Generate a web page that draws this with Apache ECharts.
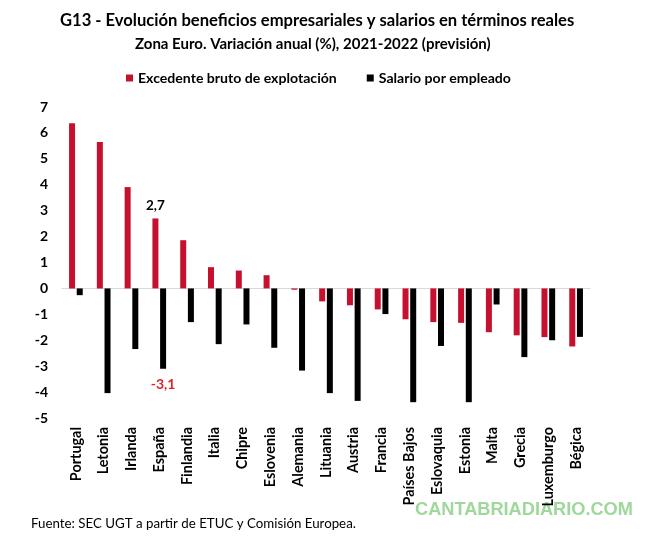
<!DOCTYPE html>
<html>
<head>
<meta charset="utf-8">
<style>
  html, body { margin: 0; padding: 0; background: #fff; }
  #chart { width: 655px; height: 541px; }
</style>
<script src="https://cdn.jsdelivr.net/npm/echarts@6/dist/echarts.min.js"></script>
</head>
<body>
<div id="chart"></div>
<script>
const titleText = "G13 - Evolución beneficios empresariales y salarios en términos reales";
const subtitleText = "Zona Euro. Variación anual (%), 2021-2022 (previsión)";
const sourceText = "Fuente: SEC UGT a partir de ETUC y Comisión Europea.";
const watermarkText = "CANTABRIADIARIO.COM";

const countries = ["Portugal", "Letonia", "Irlanda", "España", "Finlandia", "Italia", "Chipre", "Eslovenia", "Alemania", "Lituania", "Austria", "Francia", "Países Bajos", "Eslovaquia", "Estonia", "Malta", "Grecia", "Luxemburgo", "Bégica"];
const excedente = [6.37, 5.65, 3.91, 2.7, 1.86, 0.82, 0.69, 0.51, -0.05, -0.5, -0.65, -0.81, -1.19, -1.3, -1.33, -1.69, -1.81, -1.88, -2.24];
const salario = [-0.26, -4.04, -2.34, -3.1, -1.3, -2.15, -1.39, -2.29, -3.17, -4.04, -4.34, -0.99, -4.39, -2.22, -4.39, -0.62, -2.65, -2.0, -1.87];
const labelledCountry = "España";

const font = "Lato";
const chart = echarts.init(document.getElementById("chart"));

// solo España lleva etiqueta de valor
const withLabel = (values, label) =>
  values.map((value, i) =>
    countries[i] === labelledCountry ? { value, label } : value
  );

const labelFormatter = (params) => String(params.value).replace(".", ",");

chart.setOption({
  animation: false,
  textStyle: { fontFamily: font },
  title: [
    {
      text: titleText,
      left: 60,
      top: 12,
      padding: 0,
      textStyle: { fontFamily: font, fontSize: 16.6, fontWeight: "bold", color: "#000" },
    },
    {
      text: subtitleText,
      left: 135,
      top: 37,
      padding: 0,
      textStyle: { fontFamily: font, fontSize: 15, fontWeight: "bold", color: "#000" },
    },
  ],
  legend: {
    top: 66,
    left: 121,
    itemWidth: 7,
    itemHeight: 7,
    itemGap: 30,
    icon: "rect",
    textStyle: { fontFamily: font, fontSize: 14.1, fontWeight: "bold", color: "#000" },
  },
  grid: { left: 62, right: 65, top: 107, bottom: 123, outerBoundsMode: "none" },
  xAxis: [
    {
      // etiquetas abajo del todo, sin línea
      type: "category",
      data: countries,
      position: "bottom",
      axisLine: { show: false, onZero: false },
      axisTick: { show: false },
      axisLabel: {
        interval: 0,
        rotate: 90,
        margin: 9,
        fontFamily: font,
        fontSize: 14.4,
        fontWeight: "bold",
        color: "#000",
      },
    },
    {
      // línea en el cero
      type: "category",
      data: countries,
      position: "top",
      axisLine: { onZero: true, lineStyle: { color: "#d9d9d9", width: 1 } },
      axisTick: { show: false },
      axisLabel: { show: false },
    },
  ],
  yAxis: {
    type: "value",
    min: -5,
    max: 7,
    interval: 1,
    splitLine: { show: false },
    axisLine: { show: false },
    axisTick: { show: false },
    axisLabel: { margin: 14, fontFamily: font, fontSize: 14, fontWeight: "bold", color: "#000" },
  },
  series: [
    {
      name: "Excedente bruto de explotación",
      type: "bar",
      barWidth: 6,
      barGap: "28%",
      itemStyle: { color: "#c5112f" },
      data: withLabel(excedente, {
        show: true,
        position: "top",
        distance: 6,
        formatter: labelFormatter,
        fontFamily: font,
        fontSize: 13.5,
        fontWeight: "bold",
        color: "#000",
      }),
    },
    {
      name: "Salario por empleado",
      type: "bar",
      barWidth: 6,
      itemStyle: { color: "#000" },
      data: withLabel(salario, {
        show: true,
        position: "bottom",
        distance: 9,
        formatter: labelFormatter,
        fontFamily: font,
        fontSize: 14,
        fontWeight: "bold",
        color: "#e0202e",
      }),
    },
  ],
  graphic: [
    {
      type: "text",
      left: 31,
      top: 517,
      style: { text: sourceText, fontFamily: font, fontSize: 13.3, fill: "#000" },
    },
    {
      type: "text",
      left: 415,
      top: 501,
      style: { text: watermarkText, fontFamily: "Liberation Sans", fontSize: 18.2, fontWeight: "bold", fill: "#9fd89b" },
    },
  ],
});

window.addEventListener("resize", () => chart.resize());
</script>
</body>
</html>
